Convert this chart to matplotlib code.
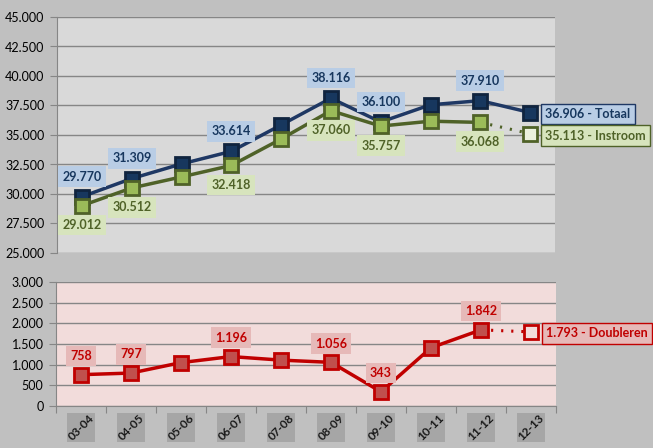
import matplotlib
matplotlib.use("Agg")
import matplotlib.pyplot as plt
from matplotlib.patches import Rectangle
import matplotlib.transforms as mtransforms

plt.rcParams['font.family'] = ['Lato', 'DejaVu Sans']

# data
years = ['03-04', '04-05', '05-06', '06-07', '07-08', '08-09', '09-10', '10-11', '11-12', '12-13']
totaal = [29770, 31309, 32550, 33614, 35850, 38116, 36100, 37560, 37910, 36906]
instroom = [29012, 30512, 31450, 32418, 34660, 37060, 35757, 36170, 36068, 35113]
doubleren = [758, 797, 1050, 1196, 1110, 1056, 343, 1410, 1842, 1793]
labelled = [0, 1, 3, 5, 6, 8]


def fmt(v):
    return f"{int(round(v)):,}".replace(',', '.')


grid_c = '#868686'
fig = plt.figure(figsize=(6.53, 4.48), dpi=100)
fig.patch.set_facecolor('#c0c0c0')

ax1 = fig.add_axes([57 / 653, 1 - 253 / 448, 498 / 653, 236 / 448])
ax2 = fig.add_axes([56 / 653, 1 - 406 / 448, 500 / 653, 124 / 448])

x = list(range(len(years)))

# ---- top panel
ax1.set_facecolor('#d9d9d9')
ax1.set_xlim(-0.5, 9.5)
ax1.set_ylim(25000, 45000)
ax1.set_yticks(range(25000, 45001, 2500))
ax1.set_yticklabels([fmt(v) for v in range(25000, 45001, 2500)], fontsize=9)
ax1.set_xticks([])
ax1.grid(axis='y', color=grid_c, lw=1)
ax1.set_axisbelow(True)
for s in ['top', 'right', 'bottom']:
    ax1.spines[s].set_visible(False)
ax1.spines['left'].set_color(grid_c)
ax1.tick_params(axis='y', color=grid_c, length=5, pad=4)

navy, navy_e = '#1f3864', '#10243f'
olive, olive_f = '#4f6228', '#9bbb59'

ax1.plot(x, totaal, color=navy, lw=2.5, marker='s', ms=10,
         mfc='#17375e', mec=navy_e, mew=2, zorder=3)
ax1.plot(x[:-1], instroom[:-1], color=olive, lw=2.5, marker='s', ms=10,
         mfc=olive_f, mec=olive, mew=2, zorder=3)
ax1.plot(x[-2:], instroom[-2:], color=olive, lw=2.2, ls=(0, (0.7, 2.6)), zorder=2)
ax1.plot(x[-1:], instroom[-1:], ls='none', marker='s', ms=10,
         mfc='#ebf1de', mec=olive, mew=2, zorder=3)

for i in labelled:
    ax1.annotate(fmt(totaal[i]), (x[i], totaal[i]), xytext=(0, 14.5),
                 textcoords='offset points', ha='center', va='center',
                 fontsize=9, fontweight='bold', color='#17375e',
                 bbox=dict(boxstyle='square,pad=0.35', fc='#b9cde5', ec='none'), zorder=4)
    ax1.annotate(fmt(instroom[i]), (x[i], instroom[i]), xytext=(0, -14),
                 textcoords='offset points', ha='center', va='center',
                 fontsize=9, fontweight='bold', color=olive,
                 bbox=dict(boxstyle='square,pad=0.35', fc='#d7e4bd', ec='none'), zorder=4)

ax1.annotate(fmt(totaal[-1]) + ' - Totaal', (x[-1], totaal[-1]), xytext=(11, -1),
             textcoords='offset points', ha='left', va='center',
             fontsize=9, fontweight='bold', color='#17375e', annotation_clip=False,
             bbox=dict(boxstyle='square,pad=0.35', fc='#b9cde5', ec=navy, lw=1), zorder=4)
ax1.annotate(fmt(instroom[-1]) + ' - Instroom', (x[-1], instroom[-1]), xytext=(11, -1.5),
             textcoords='offset points', ha='left', va='center',
             fontsize=9, fontweight='bold', color=olive, annotation_clip=False,
             bbox=dict(boxstyle='square,pad=0.35', fc='#d7e4bd', ec=olive, lw=1), zorder=4)

# ---- bottom panel
red, red_f = '#c00000', '#c0504d'
ax2.set_facecolor('#f2dcdb')
ax2.set_xlim(-0.5, 9.5)
ax2.set_ylim(0, 3000)
ax2.set_yticks(range(0, 3001, 500))
ax2.set_yticklabels([fmt(v) for v in range(0, 3001, 500)], fontsize=9)
ax2.set_xticks([i - 0.5 for i in range(len(years) + 1)])
ax2.set_xticklabels([])
ax2.grid(axis='y', color=grid_c, lw=1)
ax2.set_axisbelow(True)
for s in ['top', 'right']:
    ax2.spines[s].set_visible(False)
ax2.spines['left'].set_color(grid_c)
ax2.spines['bottom'].set_color(grid_c)
ax2.tick_params(axis='both', color=grid_c, length=5, pad=4)

ax2.plot(x[:-1], doubleren[:-1], color=red, lw=2.5, marker='s', ms=10,
         mfc=red_f, mec=red, mew=2, zorder=3)
ax2.plot(x[-2:], doubleren[-2:], color=red, lw=2.2, ls=(0, (0.7, 2.6)), zorder=2)
ax2.plot(x[-1:], doubleren[-1:], ls='none', marker='s', ms=10,
         mfc='#f2dcdb', mec=red, mew=2, zorder=3)

for i in labelled:
    ax2.annotate(fmt(doubleren[i]), (x[i], doubleren[i]), xytext=(0, 13.5),
                 textcoords='offset points', ha='center', va='center',
                 fontsize=9, fontweight='bold', color=red,
                 bbox=dict(boxstyle='square,pad=0.35', fc='#e6b9b8', ec='none'), zorder=4)
ax2.annotate(fmt(doubleren[-1]) + ' - Doubleren', (x[-1], doubleren[-1]), xytext=(11, -1),
             textcoords='offset points', ha='left', va='center',
             fontsize=9, fontweight='bold', color=red, annotation_clip=False,
             bbox=dict(boxstyle='square,pad=0.35', fc='#e6b9b8', ec=red, lw=1), zorder=4)

# category labels in grey boxes
trans = mtransforms.blended_transform_factory(ax2.transData, ax2.transAxes)
for i, lab in enumerate(years):
    ax2.add_patch(Rectangle((i - 0.28, -0.29), 0.56, 0.235, transform=trans,
                            fc='#a6a6a6', ec='none', clip_on=False))
    ax2.text(i, -0.172, lab, transform=trans, rotation=45, ha='center', va='center',
             fontsize=8.5, fontweight='bold', color='#1a1a1a')

fig.savefig('out.png', dpi=100, facecolor=fig.get_facecolor())
